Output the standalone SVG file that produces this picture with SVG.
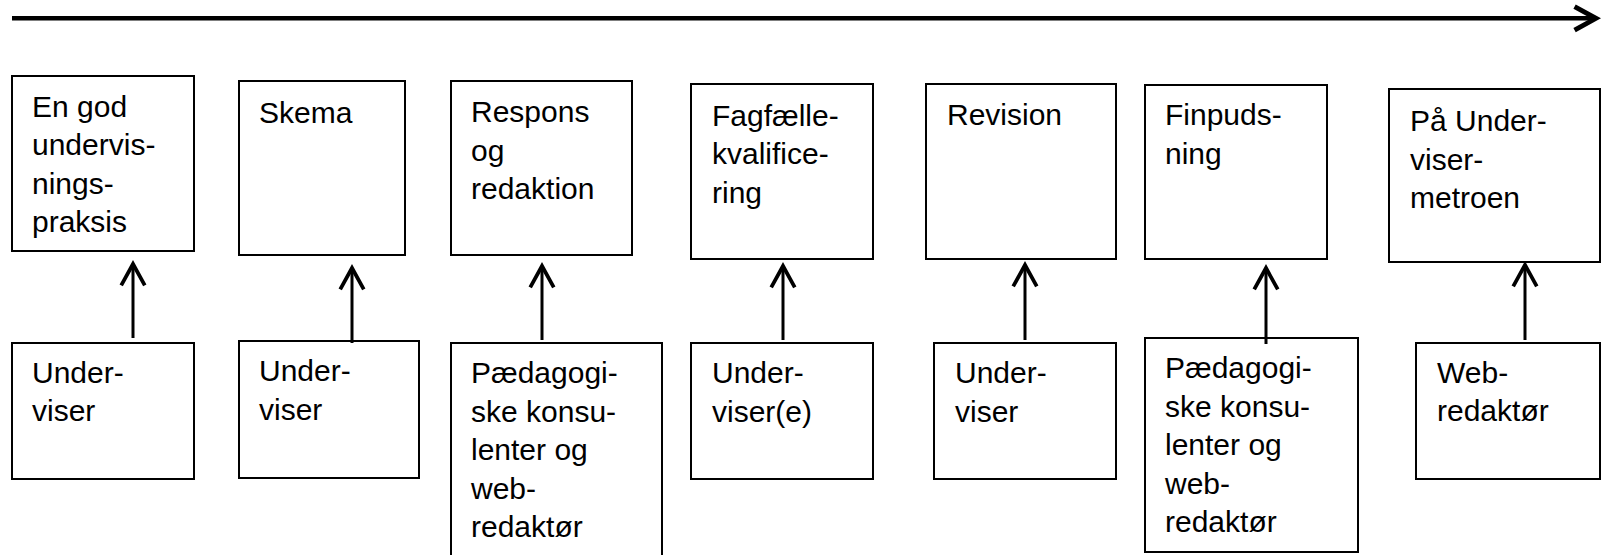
<svg xmlns="http://www.w3.org/2000/svg" width="1601" height="555" viewBox="0 0 1601 555">
<style>
.box{fill:#fff;stroke:#000;stroke-width:2}
.t{font-family:"Liberation Sans",Arial,sans-serif;font-size:30px;fill:#000}
.c{stroke:#000;stroke-width:3;fill:none}
</style>
<defs>
<marker id="ah" markerUnits="userSpaceOnUse" markerWidth="30" markerHeight="30" viewBox="-24 -14 28 28" refX="0" refY="0" orient="auto" overflow="visible">
<path d="M-20,-11 L0,0 L-20,11" fill="none" stroke="#000" stroke-width="3.5"/>
</marker>
<marker id="ahTop" markerUnits="userSpaceOnUse" markerWidth="30" markerHeight="30" viewBox="-24 -14 28 28" refX="0" refY="0" orient="auto" overflow="visible">
<path d="M-20,-11 L0,0 L-20,11" fill="none" stroke="#000" stroke-width="4.5"/>
</marker>
</defs>
<rect width="1601" height="555" fill="#fff"/>
<g id="timeline">
<line x1="12" y1="18.3" x2="1596" y2="18.3" stroke="#000" stroke-width="4.5" marker-end="url(#ahTop)"/>
</g>
<g id="t1"><rect class="box" x="12" y="76" width="182" height="175"/>
<text class="t" x="32" y="116.7">En god</text><text class="t" x="32" y="155.2">undervis-</text><text class="t" x="32" y="193.7">nings-</text><text class="t" x="32" y="232.2">praksis</text></g>
<g id="t2"><rect class="box" x="239" y="81" width="166" height="174"/>
<text class="t" x="259" y="122.7">Skema</text></g>
<g id="t3"><rect class="box" x="451" y="81" width="181" height="174"/>
<text class="t" x="471" y="122.3">Respons</text><text class="t" x="471" y="160.8">og</text><text class="t" x="471" y="199.3">redaktion</text></g>
<g id="t4"><rect class="box" x="691" y="84" width="182" height="175"/>
<text class="t" x="712" y="125.7">Fagfælle-</text><text class="t" x="712" y="164.2">kvalifice-</text><text class="t" x="712" y="202.7">ring</text></g>
<g id="t5"><rect class="box" x="926" y="84" width="190" height="175"/>
<text class="t" x="947" y="125">Revision</text></g>
<g id="t6"><rect class="box" x="1145" y="85" width="182" height="174"/>
<text class="t" x="1165" y="125">Finpuds-</text><text class="t" x="1165" y="163.5">ning</text></g>
<g id="t7"><rect class="box" x="1389" y="89" width="211" height="173"/>
<text class="t" x="1410" y="131">På Under-</text><text class="t" x="1410" y="169.5">viser-</text><text class="t" x="1410" y="208">metroen</text></g>
<g id="b1"><rect class="box" x="12" y="343" width="182" height="136"/>
<text class="t" x="32" y="382.7">Under-</text><text class="t" x="32" y="421.2">viser</text></g>
<g id="b2"><rect class="box" x="239" y="341" width="180" height="137"/>
<text class="t" x="259" y="381">Under-</text><text class="t" x="259" y="419.5">viser</text></g>
<g id="b3"><rect class="box" x="451" y="343" width="211" height="225"/>
<text class="t" x="471" y="383.3">Pædagogi-</text><text class="t" x="471" y="421.8">ske konsu-</text><text class="t" x="471" y="460.3">lenter og</text><text class="t" x="471" y="498.8">web-</text><text class="t" x="471" y="537.3">redaktør</text></g>
<g id="b4"><rect class="box" x="691" y="343" width="182" height="136"/>
<text class="t" x="712" y="383.3">Under-</text><text class="t" x="712" y="421.8">viser(e)</text></g>
<g id="b5"><rect class="box" x="934" y="343" width="182" height="136"/>
<text class="t" x="955" y="383.3">Under-</text><text class="t" x="955" y="421.8">viser</text></g>
<g id="b6"><rect class="box" x="1145" y="338" width="213" height="214"/>
<text class="t" x="1165" y="378.3">Pædagogi-</text><text class="t" x="1165" y="416.8">ske konsu-</text><text class="t" x="1165" y="455.3">lenter og</text><text class="t" x="1165" y="493.8">web-</text><text class="t" x="1165" y="532.3">redaktør</text></g>
<g id="b7"><rect class="box" x="1416" y="343" width="184" height="136"/>
<text class="t" x="1437" y="382.7">Web-</text><text class="t" x="1437" y="421.2">redaktør</text></g>
<g id="connectors">
<line class="c" x1="133" y1="338" x2="133" y2="264" marker-end="url(#ah)"/>
<line class="c" x1="352" y1="343" x2="352" y2="268" marker-end="url(#ah)"/>
<line class="c" x1="542" y1="340" x2="542" y2="266" marker-end="url(#ah)"/>
<line class="c" x1="783" y1="340" x2="783" y2="266" marker-end="url(#ah)"/>
<line class="c" x1="1025" y1="340" x2="1025" y2="265" marker-end="url(#ah)"/>
<line class="c" x1="1266" y1="344" x2="1266" y2="268" marker-end="url(#ah)"/>
<line class="c" x1="1525" y1="340" x2="1525" y2="265" marker-end="url(#ah)"/>
</g>
</svg>
